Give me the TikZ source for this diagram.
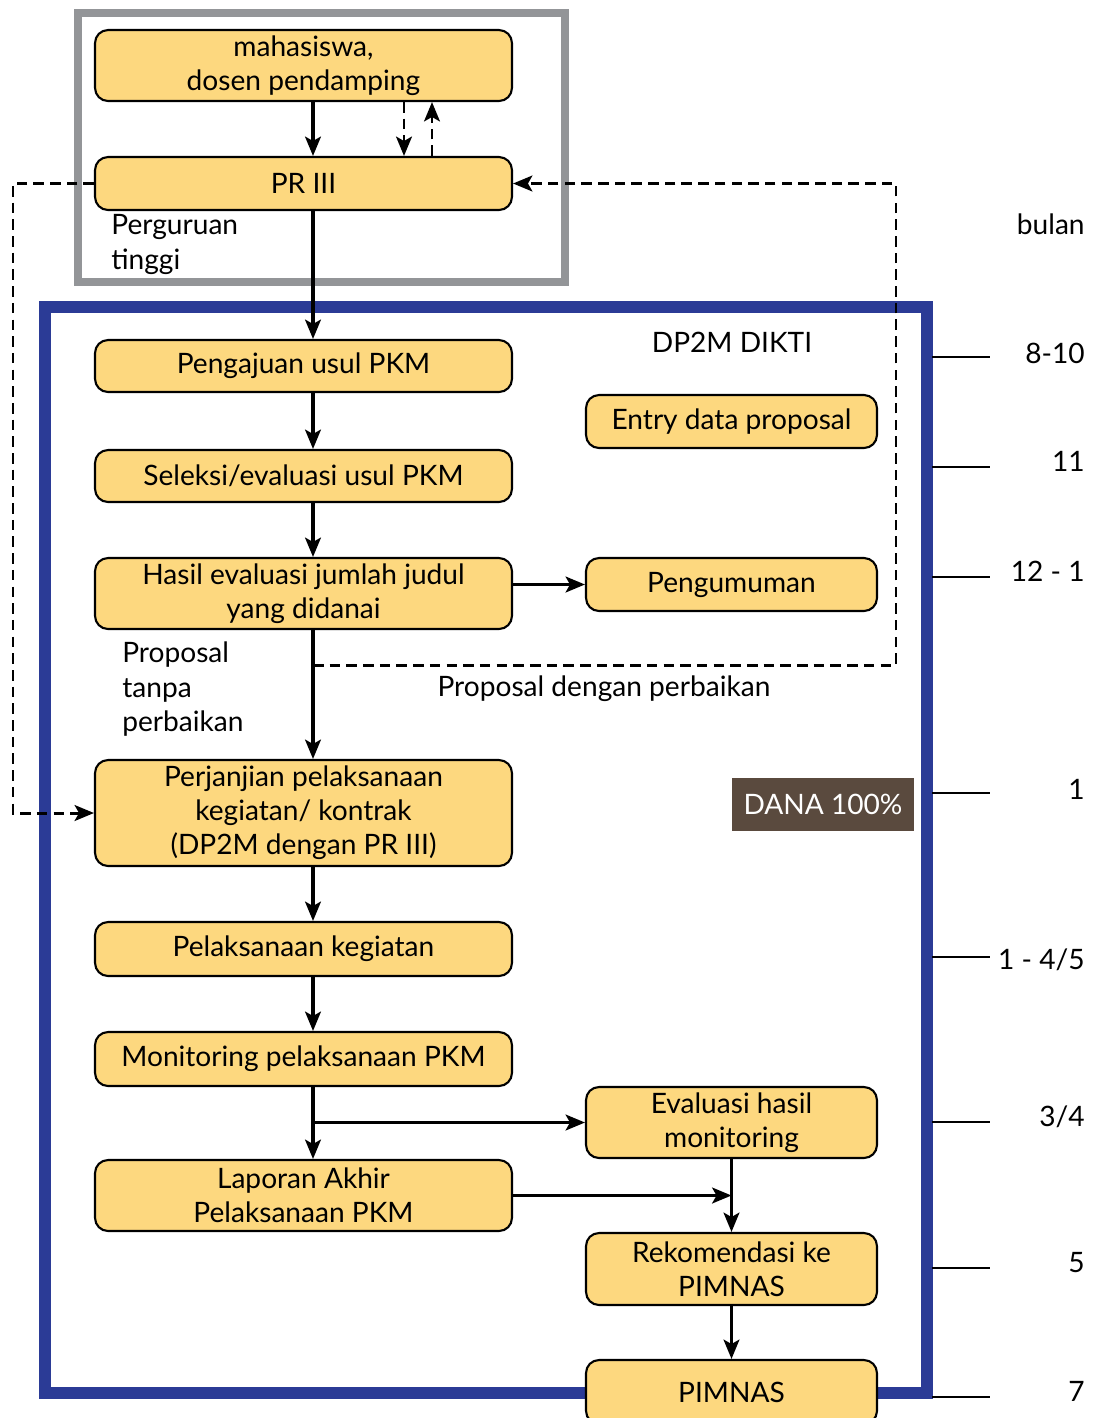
\documentclass[tikz,border=0pt]{standalone}
\usepackage{fontspec}
\setmainfont{Lato}
\usetikzlibrary{arrows.meta}

\definecolor{boxyellow}{HTML}{FDD87F}
\definecolor{diktiblue}{HTML}{2B3B96}
\definecolor{ptgray}{HTML}{939598}
\definecolor{danabrown}{HTML}{5A4A3E}

\begin{document}
\begin{tikzpicture}[x=0.02cm, y=-0.02cm,
	box/.style={draw, line width=1.2pt, fill=boxyellow, rounded corners=0.26cm, align=center, inner sep=0pt, font=\fontsize{16}{19.3}\selectfont},
	widebox/.style={box, minimum width=8.34cm},
	smallbox/.style={box, minimum width=5.82cm},
	flow/.style={-{Stealth[length=11pt, width=9pt, inset=2.5pt]}, line width=1.8pt},
	back/.style={flow, line width=1.7pt, dash pattern=on 6pt off 3.5pt},
	lbl/.style={inner sep=0pt, align=left, font=\fontsize{16}{19.9}\selectfont},
	]
	\useasboundingbox (0,0) rectangle (1095,1418);
	%Frames
	\draw[ptgray, line width=4pt] (78,13) rectangle (565,282);
	\draw[diktiblue, line width=6.5pt] (45,307) rectangle (927,1393);
	
	%Nodes
	\coordinate (axis) at (313,0);
	\coordinate (d1) at (404,0);
	\coordinate (d2) at (432,0);
	\node[widebox, minimum height=1.42cm] (mhs)      at (303.5,65.5)  {mahasiswa,\\dosen pendamping};
	\node[widebox, minimum height=1.06cm] (pr)       at (303.5,183.5) {PR III};
	\node[widebox, minimum height=1.04cm] (ajuan)    at (303.5,366)   {Pengajuan usul PKM};
	\node[widebox, minimum height=1.04cm] (seleksi)  at (303.5,476)   {Seleksi/evaluasi usul PKM};
	\node[widebox, minimum height=1.42cm] (hasil)    at (303.5,593.5) {Hasil evaluasi jumlah judul\\yang didanai};
	\node[widebox, minimum height=2.12cm] (janji)    at (303.5,813)   {Perjanjian pelaksanaan\\kegiatan/ kontrak\\(DP2M dengan PR III)};
	\node[widebox, minimum height=1.08cm] (laksana)  at (303.5,949)   {Pelaksanaan kegiatan};
	\node[widebox, minimum height=1.08cm] (monitor)  at (303.5,1059)  {Monitoring pelaksanaan PKM};
	\node[widebox, minimum height=1.42cm] (laporan)  at (303.5,1195.5){Laporan Akhir\\Pelaksanaan PKM};
	\node[smallbox, minimum height=1.06cm] (entry)   at (731.5,421.5) {Entry data proposal};
	\node[smallbox, minimum height=1.06cm] (umum)    at (731.5,584.5) {Pengumuman};
	\node[smallbox, minimum height=1.42cm] (evaluasi) at (731.5,1122.5){Evaluasi hasil\\monitoring};
	\node[smallbox, minimum height=1.44cm] (rekom)   at (731.5,1269)  {Rekomendasi ke\\PIMNAS};
	\node[smallbox, minimum height=1.28cm] (pimnas)  at (731.5,1392)  {PIMNAS};
	\node[fill=danabrown, text=white, inner sep=0pt, minimum width=3.64cm, minimum height=1.06cm,
		font=\fontsize{16}{19.3}\selectfont] (dana) at (823,804.5) {DANA 100\%};
	
	%Labels
	\node[lbl, anchor=north west] (pt)     at (111,214) {Perguruan\\tinggi};
	\node[lbl, anchor=north west] (tanpa)  at (122,641) {Proposal\\tanpa\\perbaikan};
	\node[lbl]                    (dengan) at (604,689) {Proposal dengan perbaikan};
	\node[lbl]                    (dikti)  at (732,342) {DP2M DIKTI};
	\node[lbl, anchor=east]       (bulan)  at (1085,224) {bulan};
	\foreach \t/\ty/\lab [count=\i] in {357/353/{8-10}, 467/461/{11}, 577/571/{12 - 1}, 793/789/{1},
		957/960/{1 - 4/5}, 1122/1117/{3/4}, 1268/1263/{5}, 1397/1391/{7}} {
		\draw[line width=0.8pt] (932,\t) -- (990,\t);
		\node[lbl, anchor=east] (m\i) at (1085,\ty) {\lab};
	}
	
	%Lines
	\coordinate (lt) at (13,183.5);
	\coordinate (lb) at (13,813);
	\coordinate (split) at (313,665);
	\coordinate (rb) at (896,665);
	\coordinate (rt) at (896,183.5);
	\draw[flow] (mhs.south -| axis) -- (pr.north -| axis);
	\draw[back] (mhs.south -| d1) -- (pr.north -| d1);
	\draw[back] (pr.north -| d2) -- (mhs.south -| d2);
	\draw[back] (pr.west) -- (lt) -- (lb) -- (janji.west);
	\draw[back] (split) -- (rb) -- (rt) -- (pr.east);
	\draw[flow] (pr.south -| axis) -- (ajuan.north -| axis);
	\draw[flow] (ajuan.south -| axis) -- (seleksi.north -| axis);
	\draw[flow] (seleksi.south -| axis) -- (hasil.north -| axis);
	\draw[flow] (umum.west -| hasil.east) -- (umum.west);
	\draw[flow] (hasil.south -| axis) -- (janji.north -| axis);
	\draw[flow] (janji.south -| axis) -- (laksana.north -| axis);
	\draw[flow] (laksana.south -| axis) -- (monitor.north -| axis);
	\draw[flow] (monitor.south -| axis) -- (laporan.north -| axis);
	\draw[flow] (evaluasi.west -| axis) -- (evaluasi.west);
	\draw[flow] (laporan.east) -- (laporan.east -| evaluasi.south);
	\draw[flow] (evaluasi.south) -- (rekom.north);
	\draw[flow] (rekom.south) -- (pimnas.north);
\end{tikzpicture}
\end{document}
